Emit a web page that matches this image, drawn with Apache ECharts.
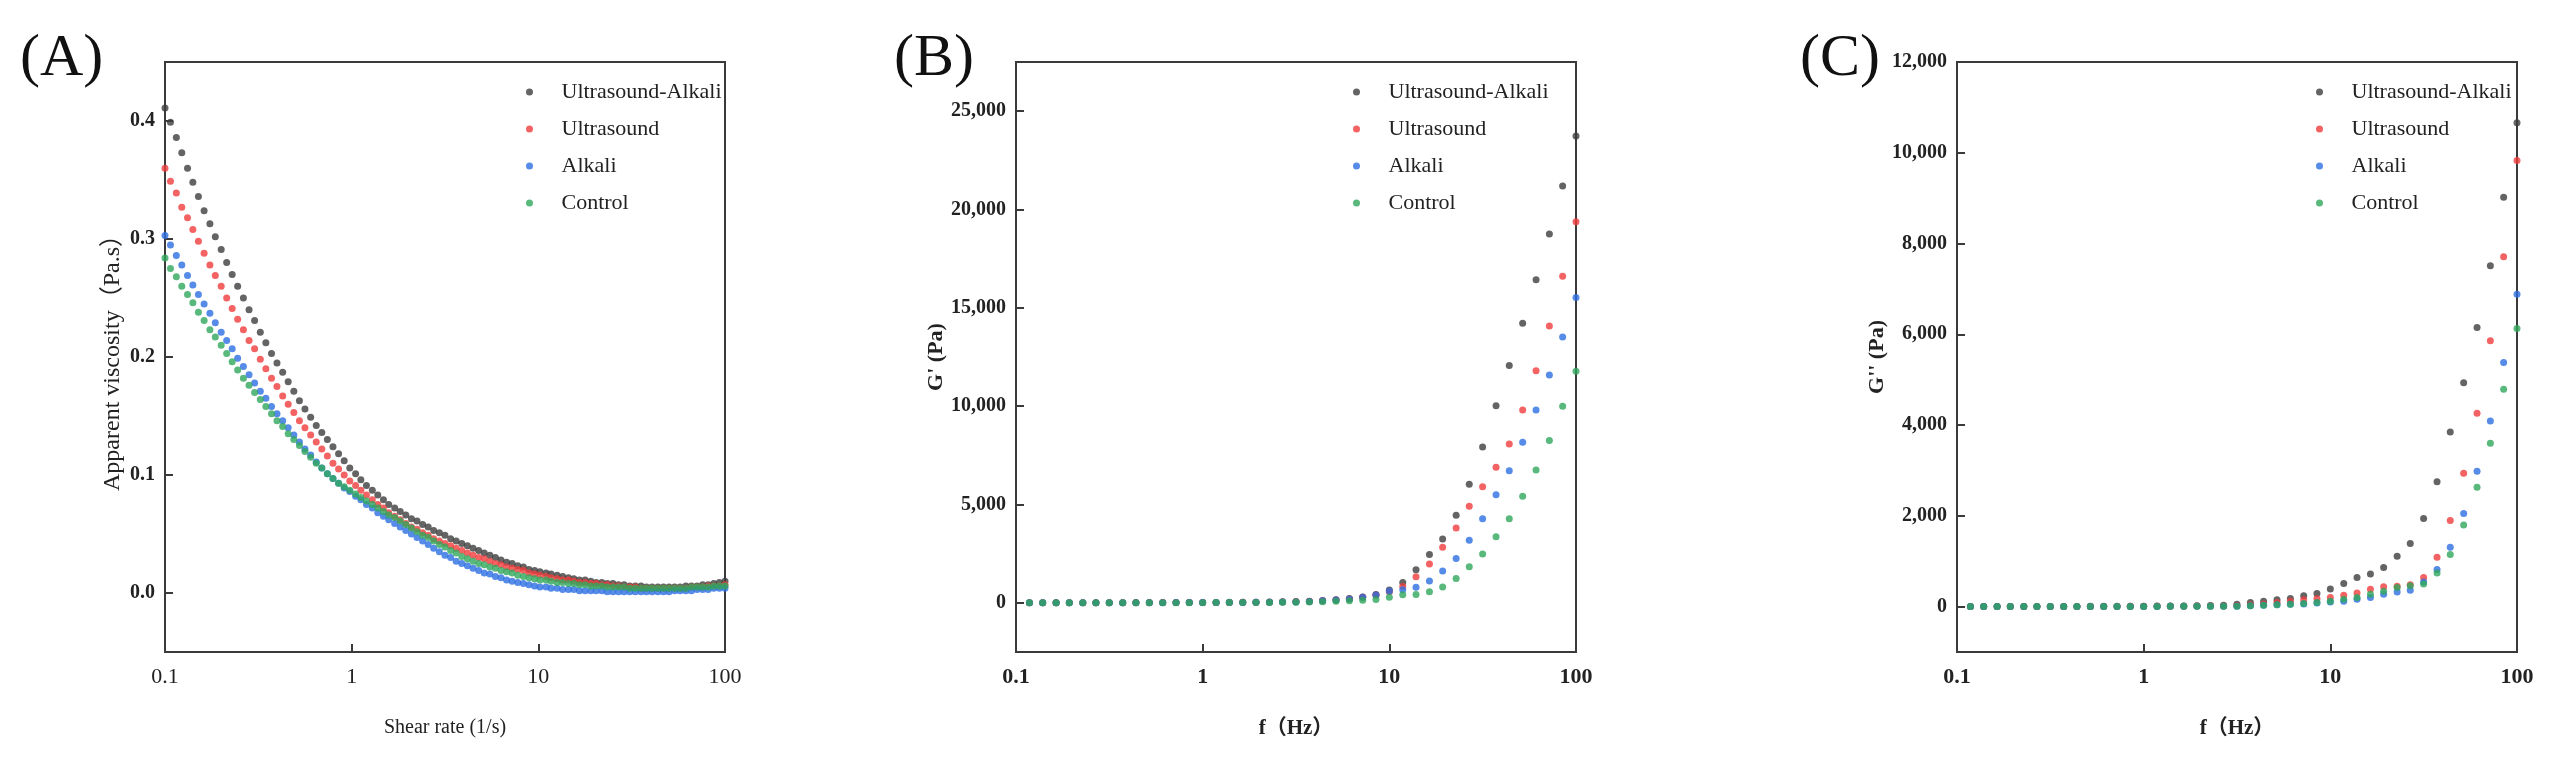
<!DOCTYPE html>
<html>
<head>
<meta charset="utf-8">
<script src="https://cdn.jsdelivr.net/npm/echarts@6/dist/echarts.min.js"></script>
<style>
    body { margin: 0; background: #fff; }
    #chart { width: 2553px; height: 762px; }
</style>
</head>
<body>
<div id="chart"></div>
<script>
'use strict';

var groups = ['Ultrasound-Alkali', 'Ultrasound', 'Alkali', 'Control'];
var colors = ['#3d3d3d', '#f03c3c', '#2c6ee2', '#2fa65b'];

// (A) shear rate sweep
var shearRate = [
    0.1, 0.107, 0.115, 0.123, 0.132, 0.141, 0.151, 0.162, 0.174, 0.186,
    0.2, 0.214, 0.229, 0.245, 0.263, 0.282, 0.302, 0.324, 0.347, 0.372,
    0.398, 0.427, 0.457, 0.49, 0.525, 0.562, 0.603, 0.646, 0.692, 0.741,
    0.794, 0.851, 0.912, 0.977, 1.05, 1.12, 1.2, 1.29, 1.38, 1.48,
    1.58, 1.7, 1.82, 1.95, 2.09, 2.24, 2.4, 2.57, 2.75, 2.95,
    3.16, 3.39, 3.63, 3.89, 4.17, 4.47, 4.79, 5.13, 5.5, 5.89,
    6.31, 6.76, 7.24, 7.76, 8.32, 8.91, 9.55, 10.2, 11, 11.7,
    12.6, 13.5, 14.5, 15.5, 16.6, 17.8, 19.1, 20.4, 21.9, 23.4,
    25.1, 26.9, 28.8, 30.9, 33.1, 35.5, 38, 40.7, 43.7, 46.8,
    50.1, 53.7, 57.5, 61.7, 66.1, 70.8, 75.9, 81.3, 87.1, 93.3, 100
];
var viscUltrasoundAlkali = [
    .411, .399, .386, .373, .360, .348, .336, .324, .313, .302,
    .291, .280, .270, .260, .250, .240, .231, .221, .212, .203,
    .195, .187, .179, .171, .163, .156, .149, .142, .136, .130,
    .124, .118, .112, .106, .101, .096, .091, .087, .083, .079,
    .075, .072, .069, .066, .063, .061, .058, .056, .053, .051,
    .049, .046, .044, .042, .040, .038, .036, .034, .032, .030,
    .028, .026, .025, .023, .022, .020, .019, .018, .017, .016,
    .015, .014, .013, .012, .011, .011, .010, .009, .009, .008,
    .008, .007, .007, .006, .006, .006, .005, .005, .005, .005,
    .005, .005, .005, .006, .006, .006, .007, .007, .008, .009, .010
];
var viscUltrasound = [
    .360, .349, .339, .327, .318, .308, .298, .288, .278, .269,
    .260, .250, .241, .232, .223, .214, .207, .198, .190, .182,
    .175, .167, .160, .153, .146, .140, .134, .128, .122, .116,
    .110, .105, .100, .095, .091, .087, .083, .079, .075, .072,
    .068, .065, .062, .059, .056, .054, .051, .049, .046, .044,
    .042, .040, .038, .036, .034, .032, .030, .029, .027, .025,
    .024, .022, .021, .020, .019, .017, .016, .015, .014, .013,
    .012, .011, .011, .010, .009, .009, .008, .008, .007, .007,
    .006, .006, .005, .005, .005, .004, .004, .004, .004, .004,
    .004, .004, .004, .004, .005, .005, .005, .006, .006, .006, .007
];
var viscAlkali = [
    .303, .295, .286, .278, .269, .261, .253, .245, .237, .229,
    .221, .214, .207, .199, .192, .185, .178, .171, .165, .158,
    .152, .146, .140, .134, .128, .122, .117, .111, .106, .101,
    .097, .093, .089, .086, .082, .079, .075, .072, .068, .065,
    .062, .059, .056, .053, .050, .047, .044, .041, .038, .035,
    .032, .030, .027, .025, .023, .021, .019, .017, .016, .014,
    .013, .011, .010, .009, .008, .007, .006, .005, .005, .004,
    .004, .003, .003, .003, .002, .002, .002, .002, .002, .001,
    .001, .001, .001, .001, .001, .001, .001, .001, .001, .001,
    .001, .002, .002, .002, .002, .003, .003, .003, .004, .004, .004
];
var viscControl = [
    .284, .275, .268, .260, .253, .246, .238, .231, .223, .217,
    .210, .203, .196, .189, .182, .176, .170, .164, .158, .152,
    .146, .141, .135, .130, .125, .120, .115, .110, .106, .101,
    .097, .093, .090, .087, .084, .081, .078, .075, .072, .069,
    .066, .064, .061, .058, .055, .052, .049, .047, .044, .041,
    .039, .036, .034, .031, .029, .027, .025, .024, .022, .021,
    .019, .018, .017, .015, .014, .013, .012, .011, .011, .010,
    .009, .009, .008, .008, .007, .007, .006, .006, .006, .005,
    .005, .005, .005, .004, .004, .004, .004, .004, .004, .004,
    .004, .004, .004, .004, .005, .005, .005, .005, .006, .006, .006
];

// (B) and (C) frequency sweep
var freq = [
    0.118, 0.139, 0.164, 0.193, 0.228, 0.268, 0.316, 0.373, 0.439, 0.518,
    0.611, 0.72, 0.848, 1, 1.18, 1.39, 1.64, 1.93, 2.28, 2.68,
    3.16, 3.73, 4.39, 5.18, 6.11, 7.2, 8.48, 10, 11.8, 13.9,
    16.4, 19.3, 22.8, 26.8, 31.6, 37.3, 43.9, 51.8, 61.1, 72, 84.8, 100
];
var gPrimeUltrasoundAlkali = [
    4, 5, 5, 6, 7, 8, 9, 10, 11, 13, 14, 16, 18, 20,
    23, 26, 30, 35, 41, 50, 62, 80,
    120, 160, 220, 300, 420, 650, 1040, 1680, 2460, 3240,
    4450, 6030, 7930, 10020, 12070, 14210, 16430, 18750, 21200, 23740
];
var gPrimeUltrasound = [
    3, 4, 4, 5, 5, 6, 7, 8, 9, 10, 11, 12, 14, 16,
    18, 21, 24, 28, 33, 40, 50, 65,
    105, 145, 200, 280, 390, 560, 830, 1320, 1970, 2820,
    3810, 4910, 5900, 6900, 8080, 9800, 11800, 14070, 16600, 19380
];
var gPrimeAlkali = [
    3, 3, 4, 4, 5, 5, 6, 7, 8, 9, 10, 11, 12, 14,
    16, 19, 22, 26, 31, 38, 48, 65,
    100, 140, 200, 290, 400, 600, 660, 790, 1110, 1620,
    2250, 3180, 4270, 5490, 6720, 8170, 9800, 11580, 13520, 15520
];
var gPrimeControl = [
    2, 2, 3, 3, 3, 4, 4, 5, 5, 6, 7, 8, 9, 10,
    11, 13, 15, 17, 20, 24, 30, 40,
    50, 80, 100, 130, 170, 290, 410, 430, 560, 800,
    1240, 1830, 2480, 3360, 4270, 5420, 6760, 8260, 9990, 11770
];
var gDoubleUltrasoundAlkali = [
    2, 2, 3, 3, 3, 4, 4, 5, 5, 6, 7, 8, 9, 10,
    12, 14, 16, 19, 23, 30, 50, 90,
    120, 150, 180, 240, 290, 390, 510, 640, 720, 860,
    1110, 1390, 1940, 2750, 3850, 4930, 6150, 7510, 9020, 10660
];
var gDoubleUltrasound = [
    1, 1, 2, 2, 2, 3, 3, 3, 4, 4, 5, 5, 6, 7,
    8, 9, 10, 12, 14, 16, 20, 40,
    60, 90, 120, 150, 175, 200, 250, 300, 380, 440,
    450, 480, 640, 1090, 1900, 2940, 4260, 5860, 7710, 9830
];
var gDoubleAlkali = [
    1, 1, 1, 2, 2, 2, 2, 3, 3, 3, 4, 4, 4, 5,
    5, 6, 7, 8, 9, 10, 10, 20,
    30, 40, 50, 60, 80, 100, 120, 160, 200, 270,
    320, 360, 540, 820, 1310, 2050, 2980, 4090, 5380, 6880
];
var gDoubleControl = [
    1, 1, 1, 2, 2, 2, 2, 3, 3, 3, 4, 4, 4, 5,
    5, 6, 7, 8, 9, 10, 10, 20,
    30, 40, 50, 70, 90, 120, 160, 200, 270, 340,
    420, 460, 500, 740, 1150, 1800, 2630, 3600, 4790, 6130
];

var ticksA = [0, 0.1, 0.2, 0.3, 0.4];
var ticksB = [0, 5000, 10000, 15000, 20000, 25000];
var ticksC = [0, 2000, 4000, 6000, 8000, 10000, 12000];

(function() {
    var chart = echarts.init(document.getElementById('chart'));
    var serif = '"Liberation Serif", "Times New Roman", "Noto Sans CJK SC", serif';
    var frame = '#3a3a3a';

    // legendLeft: where each panel's legend sits (markers column)
    var panels = [
        { left: 165, legendLeft: 526, ys: [viscUltrasoundAlkali, viscUltrasound, viscAlkali, viscControl], xs: shearRate },
        { left: 1016, legendLeft: 1353, ys: [gPrimeUltrasoundAlkali, gPrimeUltrasound, gPrimeAlkali, gPrimeControl], xs: freq },
        { left: 1957, legendLeft: 2316, ys: [gDoubleUltrasoundAlkali, gDoubleUltrasound, gDoubleAlkali, gDoubleControl], xs: freq }
    ];

    function pairs(xs, ys) {
        var out = [];
        for (var i = 0; i < xs.length; i++) {
            out.push([xs[i], ys[i]]);
        }
        return out;
    }

    function thousands(v) {
        return String(v).replace(/\B(?=(\d{3})+(?!\d))/g, ',');
    }

    function logLabel(v) {
        return String(Number(v.toPrecision(3)));
    }

    function yAxis(gi, min, max, ticks, name, gap, nameStyle, fmt) {
        return {
            gridIndex: gi, type: 'value', min: min, max: max,
            name: name, nameLocation: 'middle', nameGap: gap,
            nameTextStyle: nameStyle,
            axisLine: { lineStyle: { color: frame, width: 2 } },
            axisTick: { inside: true, length: 8, customValues: ticks, lineStyle: { color: frame, width: 2 } },
            splitLine: { show: false },
            axisLabel: {
                margin: 10, fontFamily: serif, fontSize: 20, fontWeight: 'bold', color: '#222',
                customValues: ticks, formatter: fmt
            }
        };
    }

    var grids = [], xAxes = [], series = [], legends = [];

    panels.forEach(function(p, gi) {
        grids.push({
            left: p.left, top: 62, width: 560, height: 590,
            show: true, borderColor: frame, borderWidth: 2, backgroundColor: 'transparent'
        });
        var bold = gi > 0 ? 'bold' : 'normal';
        xAxes.push({
            gridIndex: gi, type: 'log', logBase: 10, min: 0.1, max: 100,
            name: gi === 0 ? 'Shear rate (1/s)' : 'f（Hz）',
            nameLocation: 'middle', nameGap: 66,
            nameTextStyle: { fontFamily: serif, fontSize: gi === 0 ? 20 : 21, fontWeight: bold, color: '#222' },
            axisLine: { onZero: false, lineStyle: { color: frame, width: 2 } },
            axisTick: { inside: true, length: 8, lineStyle: { color: frame, width: 2 } },
            minorTick: { show: false },
            splitLine: { show: false },
            axisLabel: { margin: 14, fontFamily: serif, fontSize: 22, fontWeight: bold, color: '#222', formatter: logLabel }
        });
    });

    var yAxes = [
        yAxis(0, -0.05, 0.45, ticksA, 'Apparent viscosity（Pa.s）', 40,
            { fontFamily: serif, fontSize: 24, color: '#222' },
            function(v) { return v.toFixed(1); }),
        yAxis(1, -2500, 27500, ticksB, "G' (Pa)", 68,
            { fontFamily: serif, fontSize: 22, fontWeight: 'bold', color: '#222' }, thousands),
        yAxis(2, -1000, 12000, ticksC, "G'' (Pa)", 68,
            { fontFamily: serif, fontSize: 22, fontWeight: 'bold', color: '#222' }, thousands)
    ];

    panels.forEach(function(p, gi) {
        for (var s = 0; s < groups.length; s++) {
            series.push({
                type: 'scatter', name: groups[s],
                xAxisIndex: gi, yAxisIndex: gi,
                symbol: 'circle', symbolSize: 7,
                itemStyle: { color: colors[s] },
                data: pairs(p.xs, p.ys[s])
            });
        }
        legends.push({
            data: groups, orient: 'vertical',
            left: p.legendLeft, top: 81, padding: 0,
            icon: 'circle', itemWidth: 54, itemHeight: 7, itemGap: 15,
            selectedMode: false,
            textStyle: { fontFamily: serif, fontSize: 22, lineHeight: 22, color: '#222' }
        });
    });

    var panelLabel = { fontFamily: serif, fontSize: 60, fontWeight: 'normal', color: '#111' };

    chart.setOption({
        backgroundColor: '#fff',
        animation: false,
        color: colors,
        title: [
            { text: '(A)', left: 15, top: 24, textStyle: panelLabel },
            { text: '(B)', left: 889, top: 24, textStyle: panelLabel },
            { text: '(C)', left: 1795, top: 24, textStyle: panelLabel }
        ],
        legend: legends,
        grid: grids,
        xAxis: xAxes,
        yAxis: yAxes,
        series: series
    });
})();
</script>
</body>
</html>
